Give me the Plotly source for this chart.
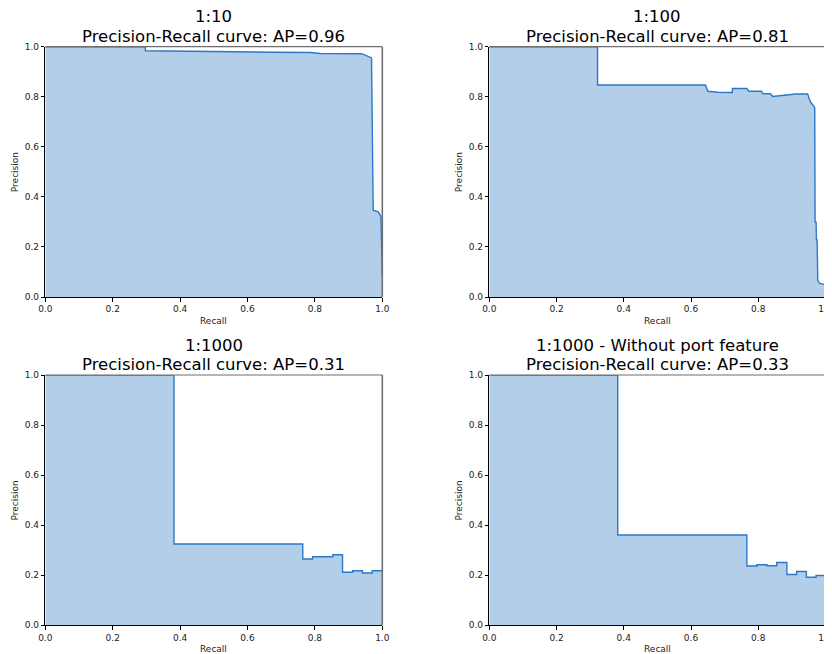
import plotly.graph_objects as go

# ---------------- data ----------------
titles_line1 = ["1:10", "1:100", "1:1000", "1:1000 - Without port feature"]
ap_values = [0.96, 0.81, 0.31, 0.33]

recall_1_10 = [0.0, 0.297, 0.297, 0.55, 0.647, 0.677, 0.786, 0.815, 0.939, 0.949,
               0.968, 0.973, 0.988, 0.996, 1.0]
precision_1_10 = [1.0, 1.0, 0.984, 0.982, 0.981, 0.978, 0.977, 0.973, 0.972, 0.967,
                  0.955, 0.347, 0.340, 0.321, 0.088]

recall_1_100 = [0.0, 0.322, 0.322, 0.643, 0.65, 0.68, 0.723, 0.723, 0.766, 0.772,
                0.81, 0.813, 0.836, 0.843, 0.912, 0.947, 0.952, 0.957, 0.966, 0.968,
                0.969, 0.972, 0.973, 0.975, 0.977, 0.982, 0.997, 1.0]
precision_1_100 = [1.0, 1.0, 0.847, 0.847, 0.822, 0.818, 0.817, 0.833, 0.833, 0.822,
                   0.822, 0.813, 0.812, 0.801, 0.811, 0.811, 0.790, 0.776, 0.762, 0.755,
                   0.299, 0.299, 0.228, 0.228, 0.068, 0.055, 0.050, 0.010]

# step curves (post steps): precision holds from each recall value to the next
recall_1_1000 = [0.0, 0.382, 0.764, 0.793, 0.853, 0.882, 0.912, 0.941, 0.970, 1.0]
precision_1_1000 = [1.0, 0.325, 0.265, 0.274, 0.282, 0.212, 0.218, 0.209, 0.218, 0.218]

recall_noport = [0.0, 0.382, 0.766, 0.796, 0.826, 0.855, 0.885, 0.914, 0.943, 0.972, 1.0]
precision_noport = [1.0, 0.361, 0.237, 0.242, 0.238, 0.251, 0.203, 0.215, 0.192, 0.199, 0.199]

tick_vals = [0.0, 0.2, 0.4, 0.6, 0.8, 1.0]

# ---------------- styling ----------------
OFF = 8  # page body margin in the browser
W, H = 832 - OFF, 654 - OFF
FILL = "rgba(179,206,233,1)"
LINE = "#2b78c8"
FONT = "DejaVu Sans"
TITLE_SIZE = 16.5

# panel pixel boxes in window pixels (left, right, top, bottom)
boxes = [
    (45.3, 382.3, 46.7, 297.0),
    (489.3, 825.5, 46.7, 297.0),
    (45.3, 382.3, 375.0, 625.3),
    (489.3, 825.5, 375.0, 625.3),
]

curves = [
    (recall_1_10, precision_1_10, "linear"),
    (recall_1_100, precision_1_100, "linear"),
    (recall_1_1000, precision_1_1000, "hv"),
    (recall_noport, precision_noport, "hv"),
]

fig = go.Figure()
annotations = []
shapes = []
layout_axes = {}

for i, ((rx, ry, shape), box) in enumerate(zip(curves, boxes)):
    l, r, t, b = [v - OFF for v in box]
    n = i + 1
    xa = "x" if n == 1 else f"x{n}"
    ya = "y" if n == 1 else f"y{n}"
    fig.add_trace(go.Scatter(
        x=rx, y=ry, mode="lines", line=dict(color=LINE, width=1.4, shape=shape),
        fill="tozeroy", fillcolor=FILL, xaxis=xa, yaxis=ya, showlegend=False,
        hoverinfo="x+y",
    ))
    xdom = [l / W, min(r / W, 1.0)]
    ydom = [(H - b) / H, (H - t) / H]
    axis_common = dict(
        range=[0, 1], tickvals=tick_vals, tickformat=".1f", ticks="outside",
        ticklen=3.5, tickwidth=0.8, tickcolor="black", showgrid=False,
        zeroline=False, showline=True, linecolor="black", linewidth=1,
        tickfont=dict(family=FONT, size=9, color="#222"), automargin=False,
        fixedrange=True, ticklabeloverflow="allow",
    )
    layout_axes["xaxis" if n == 1 else f"xaxis{n}"] = dict(
        domain=xdom, anchor=ya, **axis_common)
    layout_axes["yaxis" if n == 1 else f"yaxis{n}"] = dict(
        domain=ydom, anchor=xa, **axis_common)

    xc = (xdom[0] + xdom[1]) / 2
    # titles
    annotations.append(dict(
        text=titles_line1[i], x=xc, y=ydom[1], xref="paper", yref="paper",
        xanchor="center", yanchor="bottom", yshift=19.45, borderpad=0,
        showarrow=False, font=dict(family=FONT, size=TITLE_SIZE, color="black")))
    annotations.append(dict(
        text=f"Precision-Recall curve: AP={ap_values[i]:.2f}", x=xc, y=ydom[1],
        xref="paper", yref="paper", xanchor="center", yanchor="bottom",
        yshift=0.2, borderpad=0, showarrow=False,
        font=dict(family=FONT, size=TITLE_SIZE, color="black")))
    # axis labels
    annotations.append(dict(
        text="Recall", x=xc, y=(H - (b + 24)) / H, xref="paper", yref="paper",
        xanchor="center", yanchor="middle", showarrow=False, borderpad=0,
        font=dict(family=FONT, size=9, color="#222")))
    annotations.append(dict(
        text="Precision", x=(l - 30) / W, y=(ydom[0] + ydom[1]) / 2,
        xref="paper", yref="paper", xanchor="center", yanchor="middle",
        textangle=-90, showarrow=False, borderpad=0,
        font=dict(family=FONT, size=9, color="#222")))
    # top and right spines
    shapes.append(dict(type="line", xref=f"{xa} domain", yref=f"{ya} domain",
                       x0=0, x1=1, y0=1, y1=1, line=dict(color="#6e6e6e", width=1.2)))
    shapes.append(dict(type="line", xref=f"{xa} domain", yref=f"{ya} domain",
                       x0=1, x1=1, y0=0, y1=1, line=dict(color="#6e6e6e", width=1.6)))

fig.update_layout(
    width=W, height=H, margin=dict(l=0, r=0, t=0, b=0),
    paper_bgcolor="white", plot_bgcolor="white",
    font=dict(family=FONT), annotations=annotations, shapes=shapes,
    template="none", **layout_axes,
)

fig.write_html("out.html")
